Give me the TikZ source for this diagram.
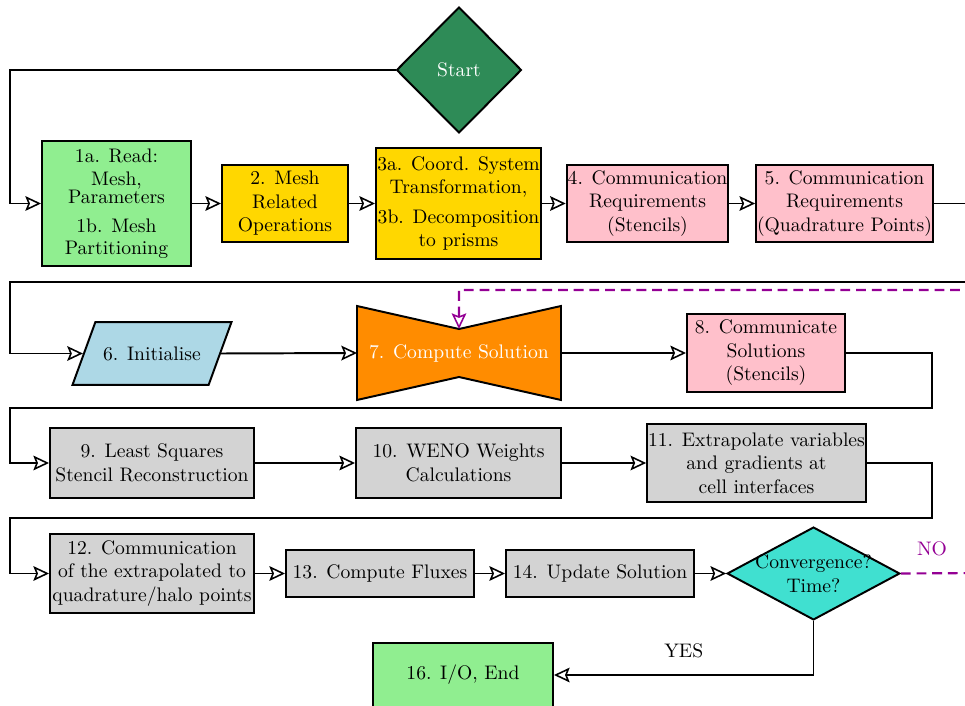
\documentclass[tikz,border=0pt]{standalone}
\usepackage{amsmath}
\usepackage{tikz}
\usetikzlibrary{arrows.meta,shapes.geometric,backgrounds,calc}

\definecolor{startgreen}{RGB}{46,139,87}
\definecolor{readgreen}{RGB}{144,238,144}
\definecolor{meshgold}{RGB}{255,215,0}
\definecolor{commpink}{RGB}{255,192,203}
\definecolor{initblue}{RGB}{173,216,230}
\definecolor{solveorange}{RGB}{255,140,0}
\definecolor{stepgray}{RGB}{211,211,211}
\definecolor{checkcyan}{RGB}{64,224,208}
\definecolor{nopurple}{RGB}{148,0,148}

\newcommand{\pu}{0.51pt}

\tikzset{
    box/.style={draw, line width=1pt, align=center, inner sep=0.5pt},
    flow/.style={line width=1pt, -{Stealth[open, length=8pt, width=7.5pt, inset=1.5pt, line width=0.8pt]}},
    noline/.style={color=nopurple, line width=1.1pt, dash pattern=on 5pt off 3pt},
}

\begin{document}
\begin{tikzpicture}[x=0.51pt, y=-0.51pt]
    \path[use as bounding box, clip] (0,0) rectangle (965,706);

    % first row
    \node[box, diamond, aspect=1, fill=startgreen, text=white,
          minimum width=125*\pu, minimum height=126*\pu] (start) at (459,70) {Start};
    \node[box, fill=readgreen, minimum width=149*\pu, minimum height=125*\pu] (s1) at (116.5,203.5)
        {1a. Read:\\ Mesh,\\[-3pt] Parameters\\[3pt] 1b. Mesh\\[-1pt] Partitioning};
    \node[box, fill=meshgold, minimum width=126*\pu, minimum height=77*\pu] (s2) at (285,203.5)
        {2. Mesh\\ Related\\ Operations};
    \node[box, fill=meshgold, minimum width=165*\pu, minimum height=111*\pu] (s3) at (458.5,203.5)
        {3a. Coord. System\\ Transformation,\\[3pt] 3b. Decomposition\\ to prisms};
    \node[box, fill=commpink, minimum width=157*\pu, minimum height=77*\pu] (s4) at (647.5,203.5)
        {4. Communication\\ Requirements\\ (Stencils)};
    \node[box, fill=commpink, minimum width=173*\pu, minimum height=77*\pu] (s5) at (844.5,203.5)
        {5. Communication\\ Requirements\\ (Quadrature Points)};

    % second row
    \node[box, trapezium, trapezium left angle=70, trapezium right angle=110, fill=initblue,
          text height=7pt, text depth=0pt, inner xsep=4pt, inner ysep=12.5pt] (s6) at (152,353.5) {6. Initialise};
    \node[align=center, text=white, outer sep=0pt,
          minimum width=204*\pu, minimum height=94*\pu] (s7) at (459,353) {7. Compute Solution};
    \coordinate (s7notch) at ($(s7.north)+(0,23)$);
    \begin{scope}[on background layer]
        \draw[line width=1pt, fill=solveorange] (s7.north west) -- (s7notch) -- (s7.north east)
            -- (s7.south east) -- ($(s7.south)+(0,-23)$) -- (s7.south west) -- cycle;
    \end{scope}
    \node[box, fill=commpink, minimum width=158*\pu, minimum height=78*\pu] (s8) at (766,353)
        {8. Communicate\\ Solutions\\ (Stencils)};

    % third row
    \node[box, fill=stepgray, minimum width=204*\pu, minimum height=70*\pu] (s9) at (152,463)
        {9. Least Squares\\ Stencil Reconstruction};
    \node[box, fill=stepgray, minimum width=205*\pu, minimum height=70*\pu] (s10) at (458.5,463)
        {10. WENO Weights\\ Calculations};
    \node[box, fill=stepgray, minimum width=217*\pu, minimum height=78*\pu] (s11) at (756.5,463)
        {11. Extrapolate variables\\ and gradients at\\ cell interfaces};

    % fourth row
    \node[box, fill=stepgray, minimum width=204*\pu, minimum height=79*\pu] (s12) at (152,573.5)
        {12. Communication\\ of the extrapolated to\\ quadrature/halo points};
    \node[box, fill=stepgray, minimum width=188*\pu, minimum height=47*\pu] (s13) at (380,573.5)
        {13. Compute Fluxes};
    \node[box, fill=stepgray, minimum width=188*\pu, minimum height=47*\pu] (s14) at (600,573.5)
        {14. Update Solution};
    \node[box, diamond, aspect=1.86, fill=checkcyan, inner xsep=-3.5pt, inner ysep=0pt] (check) at (813.5,573.5)
        {Convergence?\\ Time?};
    \node[box, fill=readgreen, minimum width=180*\pu, minimum height=64*\pu] (s16) at (463,675)
        {16. I/O, End};

    % connectors
    \draw[flow] (start.west) -- (10,70) |- (s1.west);
    \draw[flow] (s1.east) -- (s2.west);
    \draw[flow] (s2.east) -- (s3.west);
    \draw[flow] (s3.east) -- (s4.west);
    \draw[flow] (s4.east) -- (s5.west);
    \draw[flow] (s5.east) -- (985,203.5) |- (10,282) |- (s6.west);
    \draw[flow] (s6.east) -- (s7.west);
    \draw[flow] (s7.east) -- (s8.west);
    \draw[flow] (s8.east) -| (932,408) -- (10,408) |- (s9.west);
    \draw[flow] (s9.east) -- (s10.west);
    \draw[flow] (s10.east) -- (s11.west);
    \draw[flow] (s11.east) -| (932,518) -- (10,518) |- (s12.west);
    \draw[flow] (s12.east) -- (s13.west);
    \draw[flow] (s13.east) -- (s14.west);
    \draw[flow] (s14.east) -- (check.west);
    \draw[flow] (check.south) |- node[above=5pt, pos=0.75] (yes) {YES} (s16.east);
    \draw[flow, noline] (check.east) -- node[above=5pt, pos=0.37] (no) {NO} (985,573)
        |- (459,290) -- (s7notch);
\end{tikzpicture}
\end{document}
